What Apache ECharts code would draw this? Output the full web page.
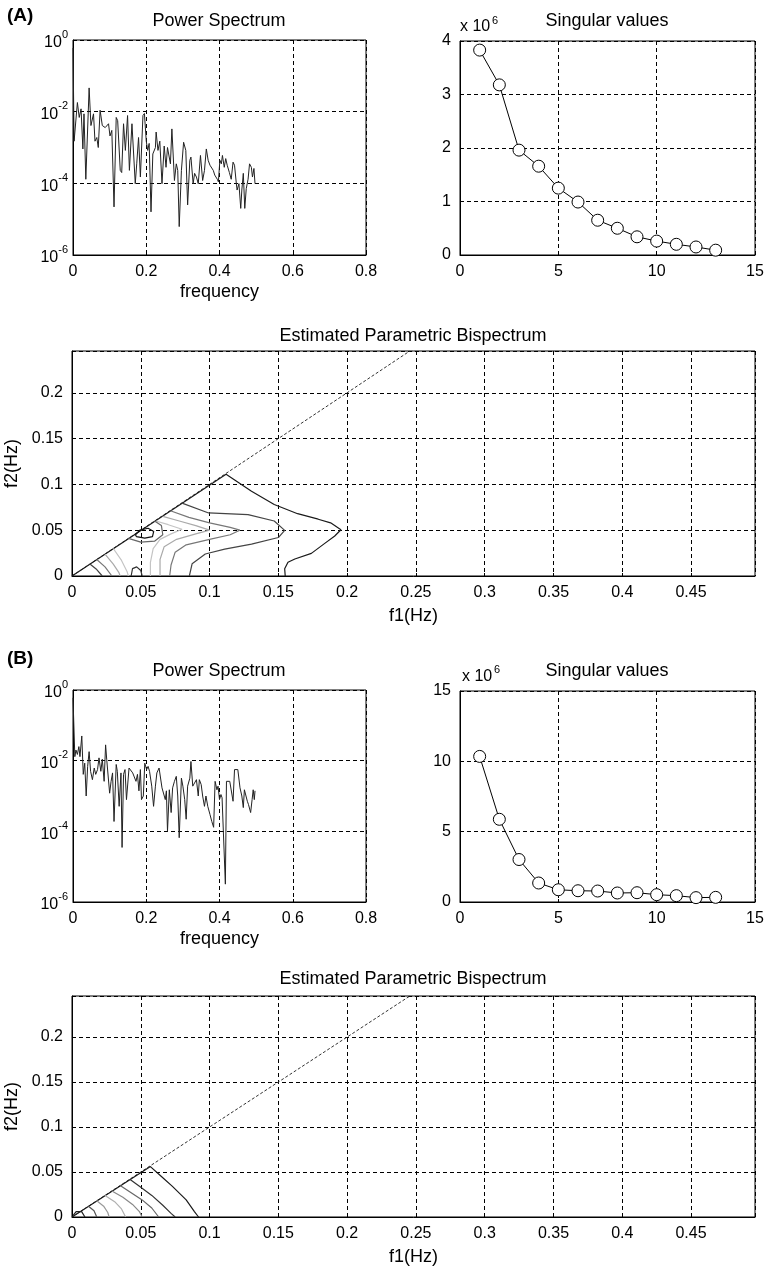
<!DOCTYPE html>
<html>
<head>
<meta charset="utf-8">
<script src="https://cdn.jsdelivr.net/npm/echarts@6/dist/echarts.min.js"></script>
<style>
  html, body { margin: 0; padding: 0; background: #fff; }
  #main { width: 767px; height: 1271px; }
</style>
</head>
<body>
<div id="main"></div>
<script>
// ---- (A) power spectrum ----
const specA_freq = [0,0.003,0.012,0.017,0.022,0.027,0.030,0.035,0.044,0.049,0.056,0.060,0.065,0.069,0.074,0.080,0.088,0.097,0.101,0.106,
  0.112,0.118,0.122,0.129,0.133,0.138,0.143,0.149,0.154,0.161,0.170,0.174,0.179,0.184,0.191,0.195,0.200,0.204,0.208,0.213,
  0.218,0.225,0.227,0.232,0.237,0.243,0.249,0.254,0.258,0.266,0.270,0.277,0.282,0.286,0.290,0.296,0.302,0.308,0.313,0.319,
  0.322,0.328,0.332,0.337,0.342,0.348,0.354,0.359,0.364,0.369,0.374,0.377,0.383,0.387,0.394,0.397,0.401,0.405,0.408,0.413,
  0.417,0.421,0.427,0.432,0.437,0.441,0.446,0.448,0.453,0.458,0.461,0.465,0.469,0.473,0.478,0.482,0.487,0.490,0.494,0.497];
const specA_power = [0.6,1.5e-3,1.8e-2,6.9e-3,1.2e-2,9.1e-4,8.7e-3,1.3e-4,4.6e-2,4.1e-3,8.7e-3,1.5e-3,1.9e-3,1.0e-3,1.1e-2,4.1e-3,3.6e-3,4.6e-3,2.1e-3,3.0e-3,
  2.2e-5,6.9e-3,5.6e-3,2.3e-4,2.0e-4,4.6e-3,8.3e-4,7.8e-3,2.3e-4,4.6e-3,9.8e-5,3.5e-4,1.9e-3,1.5e-4,7.8e-3,8.9e-3,1.5e-3,8.3e-4,1.3e-3,1.6e-5,
  6.6e-4,1.0e-3,2.7e-3,8.3e-4,1.5e-3,9.8e-5,1.1e-3,2.8e-4,1.0e-3,3.5e-4,3.3e-3,1.2e-4,3.5e-4,2.3e-4,6.2e-6,2.3e-4,1.4e-3,8.3e-4,2.5e-5,4.4e-4,
  5.4e-4,9.8e-5,1.9e-4,1.5e-4,9.8e-5,6.0e-4,1.2e-4,2.3e-4,9.1e-4,4.4e-4,3.2e-4,3.5e-4,2.3e-4,1.7e-4,1.3e-4,1.1e-4,4.4e-4,3.5e-4,6.0e-4,2.8e-4,
  4.9e-4,3.2e-4,2.0e-4,1.3e-4,3.9e-4,3.2e-4,9.8e-5,6.5e-5,9.8e-5,2.0e-5,6.5e-5,1.9e-4,2.0e-5,7.1e-5,1.3e-4,3.5e-4,2.8e-4,1.5e-4,2.6e-4,9.8e-5];

// ---- (B) power spectrum ----
const specB_freq = [0,0.005,0.008,0.012,0.016,0.019,0.024,0.028,0.032,0.036,0.040,0.044,0.048,0.053,0.058,0.062,0.067,0.071,0.076,0.080,
  0.085,0.089,0.092,0.096,0.100,0.104,0.108,0.112,0.118,0.121,0.126,0.131,0.134,0.138,0.142,0.146,0.153,0.158,0.163,0.167,
  0.172,0.176,0.180,0.184,0.187,0.192,0.196,0.201,0.205,0.209,0.215,0.220,0.225,0.229,0.235,0.238,0.243,0.247,0.252,0.255,
  0.258,0.263,0.268,0.272,0.277,0.282,0.286,0.290,0.296,0.300,0.305,0.309,0.313,0.319,0.322,0.327,0.332,0.337,0.342,0.345,
  0.350,0.354,0.359,0.363,0.368,0.374,0.379,0.384,0.388,0.393,0.396,0.400,0.404,0.407,0.411,0.416,0.419,0.423,0.428,0.432,
  0.437,0.441,0.446,0.450,0.456,0.461,0.465,0.468,0.472,0.476,0.479,0.485,0.489,0.492,0.495,0.497];
const specB_power = [0.6,1.3e-2,2.0e-2,1.5e-2,2.5e-2,1.3e-2,5.0e-2,4.1e-3,8.5e-3,1.0e-3,6.9e-3,1.8e-2,5.0e-3,2.9e-3,6.2e-3,4.1e-3,5.6e-3,1.2e-2,5.0e-3,1.1e-2,
  2.6e-3,2.8e-2,1.1e-2,1.2e-2,1.2e-3,2.6e-3,4.5e-3,1.9e-4,7.8e-3,5.0e-3,5.1e-4,4.5e-3,3.5e-5,4.1e-3,5.6e-3,7.9e-4,6.2e-3,5.6e-3,4.5e-3,4.1e-3,
  2.6e-3,4.1e-3,1.4e-3,5.6e-3,7.9e-4,1.0e-3,8.5e-3,5.6e-3,6.9e-3,5.0e-3,1.9e-3,5.1e-4,1.9e-3,4.5e-3,6.2e-3,5.6e-3,1.7e-3,1.7e-3,7.9e-4,1.4e-3,
  1.0e-4,1.5e-3,3.4e-4,1.7e-3,2.6e-3,3.6e-3,1.0e-3,6.6e-5,3.2e-3,1.9e-3,7.9e-4,2.2e-4,1.9e-3,3.2e-3,9.5e-3,1.9e-3,2.1e-3,2.9e-3,1.0e-3,2.9e-3,
  2.1e-3,1.0e-3,5.1e-4,1.0e-3,5.1e-4,3.0e-4,1.9e-4,1.3e-4,2.6e-3,1.5e-3,1.9e-3,7.9e-4,1.1e-3,8.9e-4,1.0e-3,3.2e-6,2.6e-3,2.6e-3,2.6e-3,2.6e-3,
  7.1e-4,5.6e-3,6.2e-3,5.6e-3,1.7e-3,1.0e-3,4.7e-4,1.5e-3,1.4e-3,7.1e-4,5.8e-4,3.4e-4,7.9e-4,1.5e-3,7.9e-4,1.4e-3];

// ---- singular values (x 10^6) ----
const svIndex = [1,2,3,4,5,6,7,8,9,10,11,12,13];
const svA = [3.83,3.18,1.96,1.66,1.25,0.99,0.65,0.50,0.34,0.26,0.20,0.15,0.09];
const svB = [10.35,5.88,3.02,1.35,0.87,0.80,0.78,0.64,0.66,0.52,0.45,0.31,0.33];

// ---- bispectrum contours (f1, f2) ----
const diagLine = [[0,0],[0.2456,0.2456]];
const bisA_c1 = [[0,0],[0.112,0.111],[0.1305,0.0925],[0.147,0.078],[0.164,0.068],[0.179,0.062],[0.188,0.058],[0.1955,0.0505],[0.191,0.0437],[0.183,0.0348],[0.174,0.0247],[0.162,0.0186],[0.157,0.015],[0.1546,0.0079],[0.155,0]];
const bisA_c2 = [[0.080,0.0796],[0.0993,0.0688],[0.128,0.067],[0.147,0.060],[0.1546,0.0498],[0.150,0.042],[0.1305,0.0348],[0.111,0.0294],[0.0969,0.024],[0.0873,0.0133],[0.0853,0]];
const bisA_c3 = [[0.072,0.071],[0.085,0.064],[0.1,0.058],[0.115,0.053],[0.122,0.05],[0.115,0.045],[0.1,0.04],[0.083,0.034],[0.075,0.026],[0.072,0.012],[0.071,0]];
const bisA_c4 = [[0.066,0.065],[0.078,0.06],[0.09,0.055],[0.1,0.05],[0.09,0.046],[0.076,0.04],[0.067,0.032],[0.064,0.018],[0.064,0]];
const bisA_c5 = [[0.061,0.06],[0.07,0.056],[0.08,0.051],[0.072,0.046],[0.064,0.04],[0.059,0.03],[0.057,0.015],[0.057,0]];
const bisA_ring = [[0.041,0.041],[0.05,0.037],[0.06,0.038],[0.066,0.045],[0.065,0.055],[0.06,0.06]];
const bisA_peak = [[0.0461,0.045],[0.0493,0.05],[0.0553,0.0521],[0.0594,0.0486],[0.0585,0.0429],[0.0529,0.0414],[0.0469,0.0429],[0.0461,0.045]];
const bisA_f1 = [[0.013,0.013],[0.018,0.007],[0.022,0]];
const bisA_f2 = [[0.018,0.018],[0.024,0.01],[0.029,0]];
const bisA_f3 = [[0.024,0.024],[0.03,0.013],[0.034,0.004],[0.035,0]];
const bisA_f4 = [[0.03,0.03],[0.036,0.017],[0.04,0.005],[0.041,0]];
const bisA_bump = [[0.043,0],[0.044,0.008],[0.047,0.01],[0.05,0.006],[0.051,0]];

const bisB_c1 = [[0,0],[0.057,0.056],[0.065,0.045],[0.073,0.034],[0.083,0.019],[0.089,0.006],[0.092,0]];
const bisB_c2 = [[0.042,0.042],[0.05,0.033],[0.058,0.024],[0.066,0.013],[0.072,0.004],[0.075,0]];
const bisB_c3 = [[0.035,0.035],[0.043,0.027],[0.051,0.019],[0.058,0.01],[0.063,0]];
const bisB_c4 = [[0.029,0.029],[0.037,0.022],[0.044,0.014],[0.049,0.006],[0.051,0]];
const bisB_c5 = [[0.024,0.024],[0.031,0.017],[0.036,0.009],[0.039,0]];
const bisB_c6 = [[0.018,0.018],[0.023,0.012],[0.026,0.005],[0.027,0]];
const bisB_c7 = [[0.012,0.012],[0.016,0.007],[0.018,0]];
const bisB_c8 = [[0.001,0.002],[0.003,0.006],[0.007,0.006],[0.0094,0]];

const FONT = 'Liberation Sans, Arial, sans-serif';

let zip = (xs, ys) => xs.map((x, i) => [x, ys[i]]);

let grids = [
    {left: 73, top: 40, width: 293, height: 215},   // spectrum A
    {left: 460, top: 41, width: 295, height: 214},  // singular A
    {left: 72, top: 351, width: 683, height: 225},  // bispectrum A
    {left: 73, top: 690, width: 293, height: 212},  // spectrum B
    {left: 460, top: 691, width: 295, height: 211}, // singular B
    {left: 72, top: 996, width: 683, height: 221}   // bispectrum B
].map(g => Object.assign(g, {show: true, borderColor: '#000', borderWidth: 1, containLabel: false, outerBoundsMode: 'none'}));

let splitDash = {show: true, lineStyle: {color: '#000', type: [4, 3], width: 1}};

function valAxis(gi, min, max, interval, extra) {
    return Object.assign({
        type: 'value', gridIndex: gi, min: min, max: max, interval: interval,
        axisLine: {show: true, lineStyle: {color: '#000', width: 1}},
        axisTick: {show: true, inside: true, length: 3, lineStyle: {color: '#000'}},
        axisLabel: {color: '#000', fontSize: 16, fontFamily: FONT, margin: 9},
        splitLine: splitDash,
        nameTextStyle: {color: '#000', fontSize: 18, fontFamily: FONT}
    }, extra || {});
}

function logAxis(gi) {
    return {
        type: 'log', logBase: 10, gridIndex: gi, min: 1e-6, max: 1, interval: 2, splitNumber: 3,
        axisLine: {show: true, lineStyle: {color: '#000', width: 1}},
        axisTick: {show: true, inside: true, length: 3, lineStyle: {color: '#000'}},
        minorTick: {show: false},
        splitLine: splitDash,
        axisLabel: {
            margin: 5,
            formatter: v => '{b|10}{s|' + Math.round(Math.log10(v)) + '}',
            rich: {
                b: {color: '#000', fontSize: 16, fontFamily: FONT, lineHeight: 22, verticalAlign: 'bottom'},
                s: {color: '#000', fontSize: 11, fontFamily: FONT, lineHeight: 11, verticalAlign: 'top'}
            }
        }
    };
}

let bisX = gi => valAxis(gi, 0, 0.4965, 0.05, {
    name: 'f1(Hz)', nameLocation: 'middle', nameGap: 31,
    axisLabel: {color: '#000', fontSize: 16, fontFamily: FONT, margin: 9, showMaxLabel: false}
});
let bisY = gi => valAxis(gi, 0, 0.2456, 0.05, {
    name: 'f2(Hz)', nameLocation: 'middle', nameGap: 48, nameRotate: 90,
    axisLabel: {color: '#000', fontSize: 16, fontFamily: FONT, margin: 9, showMaxLabel: false}
});

let xAxes = [
    valAxis(0, 0, 0.8, 0.2, {name: 'frequency', nameLocation: 'middle', nameGap: 28}),
    valAxis(1, 0, 15, 5),
    bisX(2),
    valAxis(3, 0, 0.8, 0.2, {name: 'frequency', nameLocation: 'middle', nameGap: 28}),
    valAxis(4, 0, 15, 5),
    bisX(5)
];
let yAxes = [
    logAxis(0),
    valAxis(1, 0, 4, 1),
    bisY(2),
    logAxis(3),
    valAxis(4, 0, 15, 5),
    bisY(5)
];

function lineSeries(gi, data, color, width, dash) {
    return {
        type: 'line', xAxisIndex: gi, yAxisIndex: gi, data: data,
        showSymbol: false, symbol: 'none', animation: false, silent: true,
        lineStyle: {color: color, width: width || 1, type: dash || 'solid'}
    };
}

function svSeries(gi, values) {
    return {
        type: 'line', xAxisIndex: gi, yAxisIndex: gi, data: zip(svIndex, values),
        symbol: 'circle', symbolSize: 12, showSymbol: true, animation: false, silent: true,
        lineStyle: {color: '#000', width: 1},
        itemStyle: {color: '#fff', borderColor: '#000', borderWidth: 1}
    };
}

let series = [
    lineSeries(0, zip(specA_freq, specA_power), '#222', 1),
    svSeries(1, svA),
    lineSeries(2, diagLine, '#333', 1, [3, 2]),
    lineSeries(2, bisA_c1, '#1a1a1a', 1.2),
    lineSeries(2, bisA_c2, '#444', 1.2),
    lineSeries(2, bisA_c3, '#777', 1.2),
    lineSeries(2, bisA_c4, '#aaa', 1.2),
    lineSeries(2, bisA_c5, '#c4c4c4', 1.2),
    lineSeries(2, bisA_ring, '#666', 1.2),
    lineSeries(2, bisA_peak, '#111', 1.2),
    lineSeries(2, bisA_f1, '#444', 1.2),
    lineSeries(2, bisA_f2, '#777', 1.2),
    lineSeries(2, bisA_f3, '#aaa', 1.2),
    lineSeries(2, bisA_f4, '#c4c4c4', 1.2),
    lineSeries(2, bisA_bump, '#333', 1.2),
    lineSeries(3, zip(specB_freq, specB_power), '#222', 1),
    svSeries(4, svB),
    lineSeries(5, diagLine, '#333', 1, [3, 2]),
    lineSeries(5, bisB_c1, '#1a1a1a', 1.2),
    lineSeries(5, bisB_c2, '#333', 1.2),
    lineSeries(5, bisB_c3, '#666', 1.2),
    lineSeries(5, bisB_c4, '#888', 1.2),
    lineSeries(5, bisB_c5, '#b0b0b0', 1.2),
    lineSeries(5, bisB_c6, '#999', 1.2),
    lineSeries(5, bisB_c7, '#555', 1.2),
    lineSeries(5, bisB_c8, '#222', 1.2)
];

function txt(text, x, y, size, weight, align) {
    return {
        type: 'text', x: x, y: y, silent: true,
        style: {
            text: text, fill: '#000', font: (weight || 'normal') + ' ' + size + 'px ' + FONT,
            textAlign: align || 'center', textVerticalAlign: 'middle'
        }
    };
}

let graphics = [
    txt('(A)', 7, 16, 19, 'bold', 'left'),
    txt('Power Spectrum', 219, 21, 18),
    txt('Singular values', 607, 21, 18),
    txt('x 10', 460, 27, 16, 'normal', 'left'),
    txt('6', 492, 21, 11, 'normal', 'left'),
    txt('Estimated Parametric Bispectrum', 413, 336, 18),
    txt('(B)', 7, 659, 19, 'bold', 'left'),
    txt('Power Spectrum', 219, 671, 18),
    txt('Singular values', 607, 671, 18),
    txt('x 10', 462, 677, 16, 'normal', 'left'),
    txt('6', 494, 670, 11, 'normal', 'left'),
    txt('Estimated Parametric Bispectrum', 413, 979, 18)
];

let chart = echarts.init(document.getElementById('main'), null, {renderer: 'canvas'});
chart.setOption({
    backgroundColor: '#fff',
    animation: false,
    textStyle: {fontFamily: FONT},
    grid: grids,
    xAxis: xAxes,
    yAxis: yAxes,
    series: series,
    graphic: graphics
});
</script>
</body>
</html>
